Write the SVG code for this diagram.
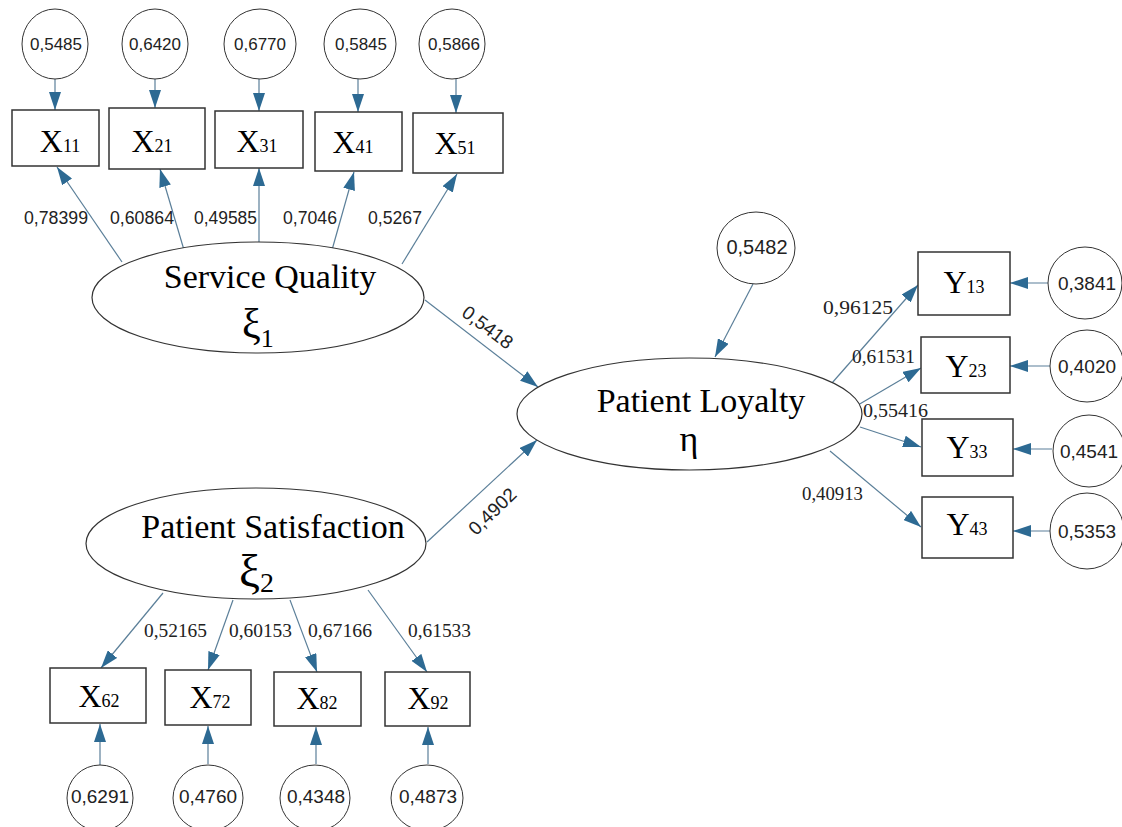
<svg xmlns="http://www.w3.org/2000/svg" width="1122" height="827" viewBox="0 0 1122 827">
<defs>
<marker id="ah" markerUnits="userSpaceOnUse" markerWidth="18" markerHeight="12" refX="18" refY="6" orient="auto">
<path d="M0,0 L18,6 L0,12 z" fill="#2d6a93"/>
</marker>
<style>
.c{stroke:#5b7f99;stroke-width:1.2;fill:none;marker-end:url(#ah)}
.box{fill:#fff;stroke:#333;stroke-width:1.5}
.err{fill:#fff;stroke:#333;stroke-width:1}
.lat{fill:#fff;stroke:#333;stroke-width:1.2}
.ev{font-family:"Liberation Sans",Arial,sans-serif;fill:#222;text-anchor:middle}
.ld{font-family:"Liberation Sans",Arial,sans-serif;font-size:18px;fill:#222}
.lds{font-family:"Liberation Serif","Times New Roman",serif;font-size:19px;fill:#222}
.mv{font-family:"Liberation Serif","Times New Roman",serif;font-size:32px;fill:#000;text-anchor:middle}
.sub{font-size:18px}
.ln{font-family:"Liberation Serif","Times New Roman",serif;font-size:34px;fill:#000;text-anchor:middle}
.gr{font-family:"Liberation Serif","Times New Roman",serif;fill:#000}
</style>
</defs>
<rect width="1122" height="827" fill="#fff"/>

<g id="connectors">
<line class="c" x1="55" y1="79" x2="55" y2="110"/>
<line class="c" x1="155" y1="79" x2="155" y2="108"/>
<line class="c" x1="259" y1="79" x2="259" y2="111"/>
<line class="c" x1="358" y1="79" x2="358" y2="112"/>
<line class="c" x1="456" y1="79" x2="456" y2="113"/>
<line class="c" x1="122" y1="262" x2="57" y2="167"/>
<line class="c" x1="184" y1="250" x2="160" y2="169"/>
<line class="c" x1="259" y1="245" x2="259" y2="168"/>
<line class="c" x1="332" y1="250" x2="354" y2="172"/>
<line class="c" x1="402" y1="264" x2="457" y2="174"/>
<line class="c" x1="425" y1="300" x2="538" y2="387"/>
<line class="c" x1="427" y1="542" x2="537" y2="440"/>
<line class="c" x1="753" y1="284" x2="715" y2="357"/>
<line class="c" x1="832" y1="383" x2="918" y2="285"/>
<line class="c" x1="858" y1="405" x2="921" y2="368"/>
<line class="c" x1="860" y1="427" x2="921" y2="447"/>
<line class="c" x1="830" y1="451" x2="921" y2="527"/>
<line class="c" x1="1048" y1="283" x2="1010" y2="283"/>
<line class="c" x1="1050" y1="366" x2="1010" y2="366"/>
<line class="c" x1="1052" y1="449" x2="1013" y2="449"/>
<line class="c" x1="1050" y1="531" x2="1013" y2="531"/>
<line class="c" x1="163" y1="593" x2="101" y2="668"/>
<line class="c" x1="233" y1="600" x2="208" y2="670"/>
<line class="c" x1="290" y1="600" x2="317" y2="672"/>
<line class="c" x1="368" y1="590" x2="427" y2="672"/>
<line class="c" x1="100" y1="765" x2="100" y2="724"/>
<line class="c" x1="208" y1="764" x2="208" y2="726"/>
<line class="c" x1="316" y1="764" x2="316" y2="727"/>
<line class="c" x1="428" y1="764" x2="428" y2="727"/>
<text class="ld" x="24" y="224" textLength="64" lengthAdjust="spacingAndGlyphs">0,78399</text>
<text class="ld" x="110" y="224" textLength="64" lengthAdjust="spacingAndGlyphs">0,60864</text>
<text class="ld" x="194" y="224" textLength="63" lengthAdjust="spacingAndGlyphs">0,49585</text>
<text class="ld" x="283" y="224" textLength="54" lengthAdjust="spacingAndGlyphs">0,7046</text>
<text class="ld" x="368" y="224" textLength="54" lengthAdjust="spacingAndGlyphs">0,5267</text>
<text class="ev" font-size="19" transform="translate(488,327) rotate(37)" x="0" y="7">0,5418</text>
<text class="ev" font-size="19" transform="translate(492,511) rotate(-44)" x="0" y="7">0,4902</text>
<text class="lds" x="823" y="314" textLength="70" lengthAdjust="spacingAndGlyphs">0,96125</text>
<text class="lds" x="852" y="363" textLength="63" lengthAdjust="spacingAndGlyphs">0,61531</text>
<text class="lds" x="863" y="417" textLength="65" lengthAdjust="spacingAndGlyphs">0,55416</text>
<text class="lds" x="802" y="500" textLength="61" lengthAdjust="spacingAndGlyphs">0,40913</text>
<text class="lds" x="144" y="637" textLength="63" lengthAdjust="spacingAndGlyphs">0,52165</text>
<text class="lds" x="229" y="637" textLength="63" lengthAdjust="spacingAndGlyphs">0,60153</text>
<text class="lds" x="308" y="637" textLength="64" lengthAdjust="spacingAndGlyphs">0,67166</text>
<text class="lds" x="408" y="637" textLength="63" lengthAdjust="spacingAndGlyphs">0,61533</text>
</g>

<g id="e11"><ellipse class="err" cx="55" cy="44" rx="33" ry="35"/><text class="ev" font-size="17" x="56" y="50">0,5485</text></g>
<g id="e21"><ellipse class="err" cx="155" cy="44" rx="33" ry="35"/><text class="ev" font-size="17" x="155" y="50">0,6420</text></g>
<g id="e31"><ellipse class="err" cx="260" cy="44" rx="36" ry="35"/><text class="ev" font-size="17" x="260" y="50">0,6770</text></g>
<g id="e41"><ellipse class="err" cx="360" cy="44" rx="36" ry="35"/><text class="ev" font-size="17" x="361" y="50">0,5845</text></g>
<g id="e51"><ellipse class="err" cx="452" cy="44" rx="33" ry="35"/><text class="ev" font-size="17" x="454" y="50">0,5866</text></g>

<g id="x11"><rect class="box" x="12" y="110" width="87" height="56"/><text class="mv" x="60" y="152">X<tspan class="sub">11</tspan></text></g>
<g id="x21"><rect class="box" x="109" y="108" width="96" height="61"/><text class="mv" x="152" y="152">X<tspan class="sub">21</tspan></text></g>
<g id="x31"><rect class="box" x="215" y="111" width="88" height="57"/><text class="mv" x="257" y="152">X<tspan class="sub">31</tspan></text></g>
<g id="x41"><rect class="box" x="315" y="112" width="87" height="59"/><text class="mv" x="353" y="153">X<tspan class="sub">41</tspan></text></g>
<g id="x51"><rect class="box" x="413" y="113" width="90" height="60"/><text class="mv" x="455" y="154">X<tspan class="sub">51</tspan></text></g>

<g id="service-quality"><ellipse class="lat" cx="258" cy="297.5" rx="166" ry="55.5"/>
<text class="ln" x="270" y="288">Service Quality</text>
<text class="gr" x="242" y="338" font-size="42">ξ<tspan font-size="26" dy="9">1</tspan></text></g>

<g id="patient-satisfaction"><ellipse class="lat" cx="256" cy="543.5" rx="170" ry="55.5"/>
<text class="ln" x="273" y="538">Patient Satisfaction</text>
<text class="gr" x="239" y="587" font-size="47">ξ<tspan font-size="28" dy="5">2</tspan></text></g>

<g id="patient-loyalty"><ellipse class="lat" cx="689.5" cy="414" rx="172.5" ry="56"/>
<text class="ln" x="701" y="412">Patient Loyalty</text>
<text class="gr" x="689" y="451" font-size="36" text-anchor="middle">η</text></g>

<g id="zeta"><ellipse class="err" cx="756" cy="248" rx="39" ry="36"/><text class="ev" font-size="20" x="757" y="254">0,5482</text></g>

<g id="y13"><rect class="box" x="918" y="252" width="92" height="63"/><text class="mv" x="964" y="293">Y<tspan class="sub">13</tspan></text></g>
<g id="y23"><rect class="box" x="921" y="337" width="89" height="56"/><text class="mv" x="966" y="377">Y<tspan class="sub">23</tspan></text></g>
<g id="y33"><rect class="box" x="922" y="419" width="91" height="57"/><text class="mv" x="967" y="458">Y<tspan class="sub">33</tspan></text></g>
<g id="y43"><rect class="box" x="922" y="497" width="91" height="61"/><text class="mv" x="967" y="535">Y<tspan class="sub">43</tspan></text></g>

<g id="d13"><ellipse class="err" cx="1085" cy="283" rx="37" ry="36"/><text class="ev" font-size="19" x="1087" y="290">0,3841</text></g>
<g id="d23"><ellipse class="err" cx="1087" cy="366" rx="37" ry="36"/><text class="ev" font-size="19" x="1087" y="373">0,4020</text></g>
<g id="d33"><ellipse class="err" cx="1089" cy="451" rx="36" ry="36"/><text class="ev" font-size="19" x="1089" y="458">0,4541</text></g>
<g id="d43"><ellipse class="err" cx="1087" cy="531" rx="37" ry="38"/><text class="ev" font-size="19" x="1087" y="538">0,5353</text></g>

<g id="x62"><rect class="box" x="50" y="668" width="96" height="55"/><text class="mv" x="99" y="707">X<tspan class="sub">62</tspan></text></g>
<g id="x72"><rect class="box" x="165" y="670" width="86" height="55"/><text class="mv" x="210" y="708">X<tspan class="sub">72</tspan></text></g>
<g id="x82"><rect class="box" x="274" y="672" width="87" height="54"/><text class="mv" x="317" y="709">X<tspan class="sub">82</tspan></text></g>
<g id="x92"><rect class="box" x="385" y="672" width="85" height="54"/><text class="mv" x="428" y="709">X<tspan class="sub">92</tspan></text></g>

<g id="e62"><ellipse class="err" cx="100" cy="798" rx="33" ry="33"/><text class="ev" font-size="19" x="100" y="803">0,6291</text></g>
<g id="e72"><ellipse class="err" cx="208" cy="798" rx="35" ry="33"/><text class="ev" font-size="19" x="208" y="803">0,4760</text></g>
<g id="e82"><ellipse class="err" cx="315" cy="798" rx="35" ry="33"/><text class="ev" font-size="19" x="316" y="803">0,4348</text></g>
<g id="e92"><ellipse class="err" cx="427" cy="798" rx="36" ry="33"/><text class="ev" font-size="19" x="428" y="803">0,4873</text></g>
</svg>
